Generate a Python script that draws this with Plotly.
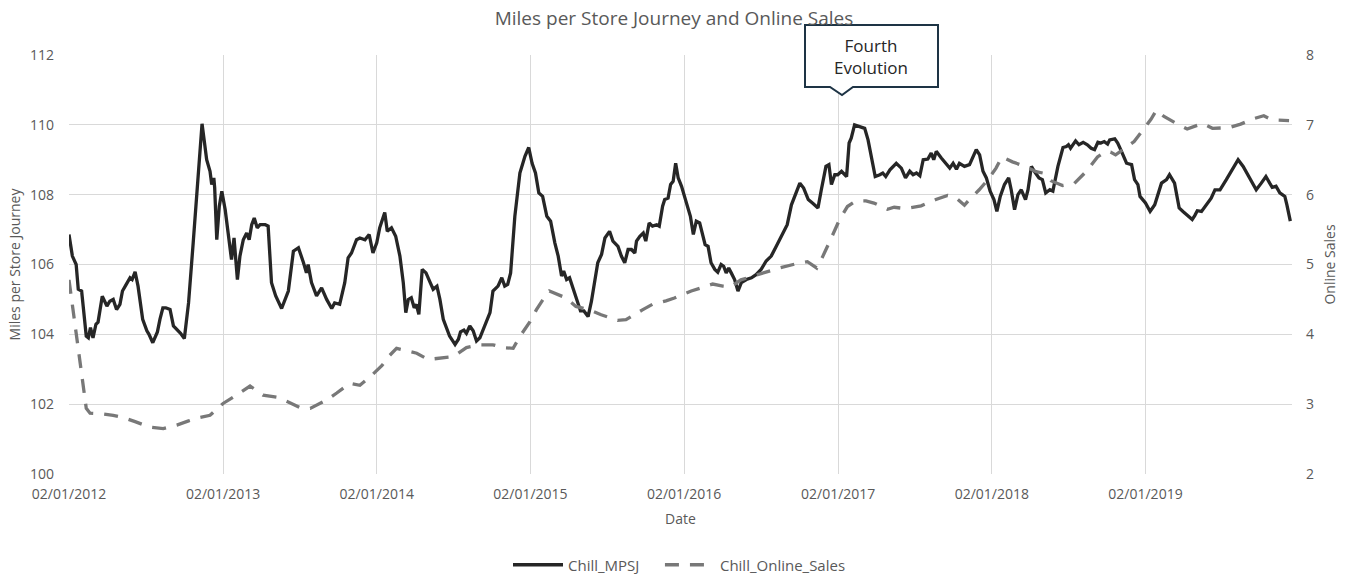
import pandas as pd
import plotly.graph_objects as go

# ---------------- data (weekly series, x given as weeks since 02/01/2012) ----------------
start_date = "2012-01-02"

mpsj_weeks = [0, 1.2, 2.4, 3.2, 4.3, 5.8, 6.5, 7.3, 8.2, 9.2, 9.9, 11.3, 12.8, 13.9, 15.0, 16.2, 17.3, 18.1,
              19.5, 20.7, 21.4, 22.4, 23.5, 25.0, 26.4, 27.2, 28.4, 30.0, 30.9, 31.8, 32.9, 34.3, 35.4, 36.7,
              37.9, 39.1, 40.5, 42.2, 43.5, 44.4, 45.1, 45.8, 46.7, 47.8, 48.4, 49.2, 49.5, 50.1, 51.0, 51.9,
              53.0, 54.0, 55.2, 56.0, 57.1, 58.0, 59.1, 60.3, 61.2, 62.0, 62.9, 63.9, 64.8, 66.5, 67.6, 68.7,
              70.2, 72.1, 74.4, 76.1, 77.8, 79.6, 80.6, 81.2, 82.3, 84.0, 85.7, 87.4, 89.1, 90.2, 91.9, 93.6,
              94.7, 95.9, 97.6, 98.7, 100.4, 101.9, 103.2, 104.4, 105.5, 107.2, 108.0, 109.4, 110.8, 112.3,
              113.4, 114.3, 115.1, 116.2, 117.1, 117.9, 118.7, 119.8, 121.1, 122.5, 123.6, 124.9, 125.8, 127.0,
              128.1, 129.2, 131.0, 132.1, 132.9, 134.0, 134.9, 136.0, 137.1, 138.3, 139.4, 141.1, 142.8, 143.9,
              145.6, 146.8, 147.9, 148.8, 149.8, 151.3, 153.0, 154.7, 156.0, 157.2, 158.3, 159.4, 160.7, 162.2,
              163.4, 164.9, 166.0, 167.1, 167.9, 168.8, 169.9, 171.1, 172.4, 173.6, 174.7, 176.1, 177.3, 178.4,
              179.5, 180.7, 181.8, 183.5, 184.6, 186.3, 187.5, 188.6, 189.7, 190.9, 192.0, 192.6, 193.7, 194.8,
              195.7, 196.9, 198.0, 199.4, 200.3, 201.4, 202.2, 203.3, 204.1, 205.0, 205.9, 206.7, 207.8, 208.9,
              210.1, 210.9, 211.8, 212.9, 214.0, 215.1, 215.9, 216.8, 217.9, 219.1, 220.2, 221.3, 222.1, 223.0,
              223.9, 224.7, 225.9, 227.0, 228.2, 229.9, 231.6, 233.2, 234.9, 236.6, 238.3, 240.0, 241.2, 242.3,
              243.7, 245.2, 246.6, 248.0, 249.3, 250.8, 252.5, 254.2, 255.3, 256.8, 257.9, 258.7, 259.8, 260.9,
              262.1, 263.8, 264.7, 265.5, 266.6, 268.3, 270.0, 271.1, 272.3, 273.6, 275.1, 276.2, 277.1, 278.5,
              280.7, 282.4, 283.9, 285.3, 286.4, 287.6, 288.7, 289.8, 291.5, 292.6, 293.4, 294.3, 296.0, 297.7,
              298.8, 300.0, 301.1, 302.2, 303.9, 305.6, 306.7, 307.9, 309.0, 310.1, 311.3, 312.6, 313.8, 314.9,
              316.0, 317.5, 318.9, 319.7, 320.9, 322.0, 323.2, 324.6, 325.4, 326.5, 327.6, 329.1, 330.3, 331.4,
              332.8, 333.9, 335.6, 337.3, 338.4, 339.1, 339.9, 341.6, 342.7, 344.1, 345.6, 346.8, 348.0, 349.1,
              350.2, 351.3, 352.4, 353.1, 354.8, 355.9, 357.1, 358.8, 360.5, 361.6, 362.7, 363.5, 365.3, 366.9,
              368.4, 370.7, 372.4, 373.5, 375.2, 376.7, 378.0, 379.7, 381.2, 382.0, 382.8, 384.3, 386.0, 387.6,
              388.8, 390.5, 392.7, 395.0, 396.7, 398.4, 400.6, 402.9, 404.5, 406.1, 407.4, 408.3, 409.6, 410.8,
              411.7, 412.5, 413.3, 414.4]

mpsj = [106.86, 106.24, 106.0, 105.29, 105.24, 103.95, 103.9, 104.19, 103.9, 104.29, 104.35, 105.09, 104.81,
        104.95, 105.0, 104.71, 104.86, 105.24, 105.43, 105.62, 105.57, 105.79, 105.38, 104.43, 104.1, 104.0,
        103.76, 104.07, 104.43, 104.76, 104.76, 104.71, 104.24, 104.14, 104.03, 103.88, 104.9, 106.62, 108.05,
        109.19, 110.03, 109.57, 109.0, 108.67, 108.29, 108.48, 108.2, 106.71, 107.67, 108.1, 107.57, 106.9,
        106.14, 106.76, 105.57, 106.24, 106.71, 106.9, 106.71, 107.14, 107.33, 107.05, 107.14, 107.14, 107.1,
        105.48, 105.1, 104.74, 105.24, 106.38, 106.48, 106.05, 105.76, 106.0, 105.48, 105.1, 105.33, 105.0,
        104.74, 104.9, 104.86, 105.48, 106.19, 106.33, 106.71, 106.76, 106.71, 106.86, 106.33, 106.62, 107.05,
        107.49, 106.95, 107.05, 106.81, 106.24, 105.48, 104.62, 105.0, 105.05, 104.76, 104.86, 104.57, 105.86,
        105.76, 105.48, 105.29, 105.38, 105.0, 104.43, 104.14, 103.95, 103.71, 103.86, 104.07, 104.12, 104.03,
        104.24, 104.1, 103.81, 103.9, 104.24, 104.62, 105.24, 105.38, 105.62, 105.38, 105.43, 105.76, 107.38,
        108.62, 109.1, 109.35, 108.9, 108.62, 108.05, 107.95, 107.38, 107.24, 106.62, 106.24, 105.67, 105.81,
        105.57, 105.62, 105.29, 104.95, 104.67, 104.67, 104.51, 104.95, 105.48, 106.05, 106.29, 106.76, 106.95,
        106.67, 106.52, 106.24, 106.05, 106.43, 106.43, 106.33, 106.67, 106.81, 106.9, 106.67, 107.19, 107.1,
        107.14, 107.1, 107.67, 107.86, 107.9, 108.29, 108.38, 108.9, 108.48, 108.24, 107.95, 107.62, 107.38,
        106.86, 107.24, 107.19, 106.81, 106.57, 106.52, 106.05, 105.86, 105.78, 106.0, 105.95, 105.76, 105.9,
        105.76, 105.57, 105.24, 105.48, 105.57, 105.62, 105.71, 105.86, 106.1, 106.24, 106.52, 106.7, 106.9,
        107.14, 107.71, 108.05, 108.33, 108.19, 107.86, 107.74, 107.62, 108.14, 108.81, 108.86, 108.29, 108.57,
        108.57, 108.67, 108.52, 109.48, 109.62, 110.0, 109.95, 109.9, 109.57, 109.1, 108.52, 108.57, 108.62,
        108.52, 108.71, 108.9, 108.76, 108.48, 108.67, 108.57, 108.62, 108.54, 109.0, 109.02, 109.19, 109.0,
        109.24, 109.05, 108.86, 108.76, 108.9, 108.73, 108.9, 108.81, 108.86, 109.05, 109.29, 109.14, 108.67,
        108.48, 108.1, 107.86, 107.52, 107.95, 108.29, 108.48, 108.14, 107.57, 108.0, 108.14, 107.86, 108.14,
        108.81, 108.67, 108.48, 108.43, 108.05, 108.14, 108.1, 108.81, 109.35, 109.38, 109.43, 109.33, 109.54,
        109.43, 109.5, 109.43, 109.33, 109.29, 109.5, 109.48, 109.52, 109.45, 109.57, 109.6, 109.48, 109.24,
        108.9, 108.86, 108.43, 108.29, 107.95, 107.76, 107.52, 107.71, 108.33, 108.43, 108.57, 108.33, 107.62,
        107.52, 107.38, 107.29, 107.4, 107.54, 107.52, 107.71, 107.9, 108.14, 108.14, 108.43, 108.76, 109.0,
        108.81, 108.48, 108.14, 108.33, 108.52, 108.33, 108.21, 108.24, 108.05, 108.0, 107.95, 107.7, 107.24]

online_weeks = [0, 1.5, 3.2, 4.6, 5.8, 7.1, 11.6, 15.0, 19.0, 22.4, 27.5, 32.0, 36.5, 40.5, 44.4, 47.8, 50.1,
                52.3, 56.8, 61.4, 65.9, 70.4, 73.8, 78.4, 81.8, 87.4, 90.8, 95.3, 98.7, 102.1, 106.1, 108.9,
                111.2, 113.4, 118.0, 121.9, 125.8, 130.4, 134.9, 139.4, 143.9, 147.3, 150.7, 153.0, 156.4,
                158.6, 160.7, 163.0, 168.7, 172.0, 176.6, 180.5, 186.2, 189.0, 194.6, 198.0, 202.6, 205.4,
                211.1, 214.5, 218.4, 221.8, 224.5, 228.0, 231.9, 234.8, 237.6, 241.0, 246.7, 250.6, 253.7,
                255.7, 258.6, 261.4, 264.2, 267.0, 270.4, 273.2, 277.7, 280.0, 283.9, 289.1, 294.2, 298.1,
                300.5, 303.8, 306.0, 308.9, 311.7, 314.5, 316.6, 320.2, 324.7, 328.1, 330.4, 333.2, 337.2,
                341.1, 345.6, 349.0, 351.8, 353.5, 355.2, 358.1, 361.5, 364.9, 367.1, 369.0, 371.6, 376.1,
                379.5, 384.6, 388.0, 393.7, 397.6, 402.1, 405.5, 408.3, 414.0]

online_sales = [4.78, 4.35, 3.78, 3.39, 2.94, 2.87, 2.86, 2.84, 2.80, 2.75, 2.67, 2.65, 2.70, 2.76, 2.81, 2.84,
                2.92, 3.01, 3.13, 3.26, 3.13, 3.10, 3.04, 2.95, 2.94, 3.06, 3.16, 3.30, 3.27, 3.39, 3.55, 3.70,
                3.80, 3.78, 3.73, 3.64, 3.66, 3.68, 3.81, 3.85, 3.85, 3.81, 3.80, 3.97, 4.18, 4.35, 4.49, 4.62,
                4.52, 4.40, 4.35, 4.28, 4.20, 4.21, 4.35, 4.43, 4.48, 4.52, 4.62, 4.67, 4.72, 4.69, 4.68, 4.78,
                4.83, 4.87, 4.90, 4.95, 5.01, 5.04, 4.95, 5.11, 5.37, 5.64, 5.83, 5.91, 5.91, 5.88, 5.79, 5.82,
                5.80, 5.84, 5.93, 5.99, 5.97, 5.85, 5.95, 6.07, 6.21, 6.38, 6.54, 6.47, 6.40, 6.33, 6.31, 6.20,
                6.13, 6.16, 6.35, 6.54, 6.62, 6.61, 6.57, 6.66, 6.76, 6.95, 7.08, 7.21, 7.12, 7.01, 6.94, 7.02,
                6.95, 6.96, 7.01, 7.09, 7.13, 7.07, 7.06]

tick_dates = ["2012-01-02", "2013-01-02", "2014-01-02", "2015-01-02",
              "2016-01-02", "2017-01-02", "2018-01-02", "2019-01-02"]
tick_labels = ["02/01/2012", "02/01/2013", "02/01/2014", "02/01/2015",
               "02/01/2016", "02/01/2017", "02/01/2018", "02/01/2019"]


def to_dates(weeks):
    base = pd.Timestamp(start_date)
    return [base + pd.Timedelta(days=round(w * 7)) for w in weeks]


# ---------------- figure ----------------
W, H = 1348, 574
L, R, T, B = 69, 56, 55, 100
FONT = "Open Sans"
GREY = "#595959"
GRID = "#d9d9d9"
PAD = "\u00a0" * 4

fig = go.Figure()
fig.add_trace(go.Scatter(
    x=to_dates(mpsj_weeks), y=mpsj, name="Chill_MPSJ" + PAD, mode="lines",
    line=dict(color="#262626", width=3.3), yaxis="y"))
fig.add_trace(go.Scatter(
    x=to_dates(online_weeks), y=online_sales, name="Chill_Online_Sales", mode="lines",
    line=dict(color="#787878", width=3.3, dash="14px,11px"), yaxis="y2"))

plot_w = W - L - R
plot_h = H - T - B


def px_x(x):
    return (x - L) / plot_w


def px_y(y):
    return (H - B - y) / plot_h


# callout box with notch
bx0, bx1, by0, by1 = 805, 938, 25, 87
nx0, nt, nx1, ny = 830, 842, 853, 95
path = (f"M {px_x(bx0)},{px_y(by0)} L {px_x(bx1)},{px_y(by0)} L {px_x(bx1)},{px_y(by1)} "
        f"L {px_x(nx1)},{px_y(by1)} L {px_x(nt)},{px_y(ny)} L {px_x(nx0)},{px_y(by1)} "
        f"L {px_x(bx0)},{px_y(by1)} Z")
fig.add_shape(type="path", path=path, xref="paper", yref="paper",
              line=dict(color="#1e3445", width=2), fillcolor="white", layer="above")
fig.add_annotation(text="Fourth<br>Evolution", xref="paper", yref="paper",
                   x=px_x((bx0 + bx1) / 2), y=px_y((by0 + by1) / 2),
                   xanchor="center", yanchor="middle", showarrow=False,
                   font=dict(family=FONT, size=17, color="#262626"))

fig.update_layout(
    width=W, height=H,
    margin=dict(l=L, r=R, t=T, b=B, autoexpand=False),
    paper_bgcolor="white", plot_bgcolor="white",
    font=dict(family=FONT, color=GREY, size=14),
    title=dict(text="Miles per Store Journey and Online Sales", x=0.5, xanchor="center",
               y=1 - 18 / H, yanchor="middle", font=dict(family=FONT, size=19, color=GREY)),
    showlegend=True,
    legend=dict(orientation="h", x=px_x(508), xanchor="left", y=-91 / plot_h, yanchor="middle",
                font=dict(family=FONT, size=15, color=GREY), itemwidth=50,
                bgcolor="rgba(0,0,0,0)"),
    xaxis=dict(type="date", range=["2012-01-02", "2019-12-16"],
               tickmode="array", tickvals=tick_dates, ticktext=tick_labels,
               showgrid=True, gridcolor=GRID, gridwidth=1, zeroline=False,
               showline=False, ticks="", ticklabelstandoff=10,
               tickfont=dict(family=FONT, size=14, color=GREY),
               title=dict(text="Date", standoff=12, font=dict(family=FONT, size=14, color=GREY))),
    yaxis=dict(range=[100, 112], dtick=2, showgrid=True, gridcolor=GRID, gridwidth=1,
               zeroline=False, showline=False, ticks="", ticklabelstandoff=14,
               tickfont=dict(family=FONT, size=14, color=GREY),
               title=dict(text="Miles per Store Journey", standoff=6,
                          font=dict(family=FONT, size=14, color=GREY))),
    yaxis2=dict(range=[2, 8], dtick=1, overlaying="y", side="right", showgrid=False,
                zeroline=False, showline=False, ticks="", ticklabelstandoff=13,
                tickfont=dict(family=FONT, size=14, color=GREY),
                title=dict(text="Online Sales", standoff=12,
                           font=dict(family=FONT, size=14, color=GREY))),
)

fig.write_html("out.html")
